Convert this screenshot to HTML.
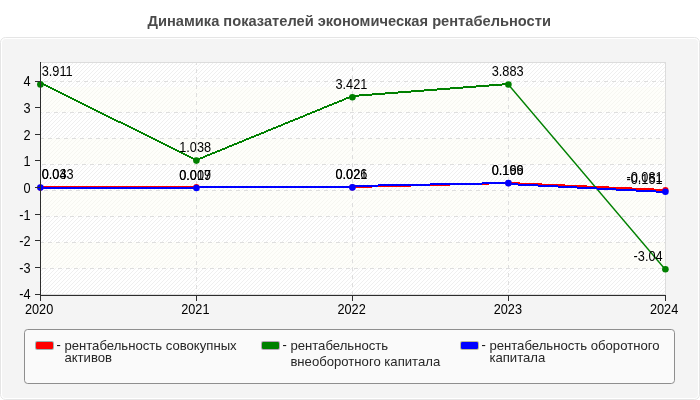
<!DOCTYPE html>
<html lang="ru"><head><meta charset="utf-8"><title>Динамика показателей экономическая рентабельности</title>
<style>
html,body{margin:0;padding:0;background:#ffffff;}
body{width:700px;height:400px;overflow:hidden;font-family:"Liberation Sans",sans-serif;}
svg text{font-family:"Liberation Sans",sans-serif;}
svg{will-change:transform;transform:translateZ(0);}
</style></head>
<body>
<svg width="700" height="400" viewBox="0 0 700 400" style="display:block">
<defs>
<pattern id="st" x="0" y="0" width="4" height="4" patternUnits="userSpaceOnUse"><g fill="#efefef" shape-rendering="crispEdges"><rect x="3" y="0" width="1" height="1"/><rect x="2" y="1" width="1" height="1"/><rect x="1" y="2" width="1" height="1"/><rect x="0" y="3" width="1" height="1"/></g></pattern>
<pattern id="sy" x="0" y="0" width="4" height="4" patternUnits="userSpaceOnUse"><g fill="#f6f6f1" shape-rendering="crispEdges"><rect x="3" y="0" width="1" height="1"/><rect x="2" y="1" width="1" height="1"/><rect x="1" y="2" width="1" height="1"/><rect x="0" y="3" width="1" height="1"/></g></pattern>
</defs>
<rect width="700" height="400" fill="#ffffff"/>
<text x="147.5" y="26" font-family="Liberation Sans, sans-serif" font-weight="bold" font-size="14.67" fill="#4b4b4b">Динамика показателей экономическая рентабельности</text>
<rect x="0.5" y="37.5" width="699" height="362" rx="5" ry="5" fill="#ffffff" stroke="#e5e5e5"/>
<rect x="2" y="39" width="696" height="359" rx="4" ry="4" fill="#f4f4f4"/>
<rect x="40" y="62" width="626" height="233" fill="#ffffff"/>
<rect x="40" y="62" width="626" height="233" fill="url(#st)"/>
<rect x="41" y="87" width="624" height="25" fill="#fefefa"/>
<rect x="41" y="87" width="624" height="25" fill="url(#sy)"/>
<rect x="41" y="138" width="624" height="26" fill="#fefefa"/>
<rect x="41" y="138" width="624" height="26" fill="url(#sy)"/>
<rect x="41" y="190" width="624" height="26" fill="#fefefa"/>
<rect x="41" y="190" width="624" height="26" fill="url(#sy)"/>
<rect x="41" y="242" width="624" height="26" fill="#fefefa"/>
<rect x="41" y="242" width="624" height="26" fill="url(#sy)"/>
<rect x="40.5" y="62.5" width="625" height="232" fill="none" stroke="#dcdcdc"/>
<line x1="40" y1="81.5" x2="665" y2="81.5" stroke="#dedede" stroke-dasharray="4 4" stroke-dashoffset="4" shape-rendering="crispEdges"/>
<line x1="40" y1="112.5" x2="665" y2="112.5" stroke="#dedede" stroke-dasharray="4 4" stroke-dashoffset="2" shape-rendering="crispEdges"/>
<line x1="40" y1="138.5" x2="665" y2="138.5" stroke="#dedede" stroke-dasharray="4 4" stroke-dashoffset="0" shape-rendering="crispEdges"/>
<line x1="40" y1="164.5" x2="665" y2="164.5" stroke="#dedede" stroke-dasharray="4 4" stroke-dashoffset="6" shape-rendering="crispEdges"/>
<line x1="40" y1="190.5" x2="665" y2="190.5" stroke="#dedede" stroke-dasharray="4 4" stroke-dashoffset="4" shape-rendering="crispEdges"/>
<line x1="40" y1="216.5" x2="665" y2="216.5" stroke="#dedede" stroke-dasharray="4 4" stroke-dashoffset="2" shape-rendering="crispEdges"/>
<line x1="40" y1="242.5" x2="665" y2="242.5" stroke="#dedede" stroke-dasharray="4 4" stroke-dashoffset="0" shape-rendering="crispEdges"/>
<line x1="40" y1="268.5" x2="665" y2="268.5" stroke="#dedede" stroke-dasharray="4 4" stroke-dashoffset="6" shape-rendering="crispEdges"/>
<line x1="196.5" y1="62" x2="196.5" y2="294" stroke="#dedede" stroke-dasharray="4 4" stroke-dashoffset="1" shape-rendering="crispEdges"/>
<line x1="352.5" y1="62" x2="352.5" y2="294" stroke="#dedede" stroke-dasharray="4 4" stroke-dashoffset="3" shape-rendering="crispEdges"/>
<line x1="508.5" y1="62" x2="508.5" y2="294" stroke="#dedede" stroke-dasharray="4 4" stroke-dashoffset="5" shape-rendering="crispEdges"/>
<path d="M40 186h157v2h-157z" fill="#ff0000" shape-rendering="crispEdges"/>
<path d="M196 186h157v2h-157z" fill="#ff0000" shape-rendering="crispEdges"/>
<path d="M352 186h20v2h-20zM372 185h39v2h-39zM411 184h39v2h-39zM450 183h39v2h-39zM489 182h20v2h-20z" fill="#ff0000" shape-rendering="crispEdges"/>
<path d="M508 182h12v2h-12zM520 183h22v2h-22zM542 184h23v2h-23zM565 185h22v2h-22zM587 186h22v2h-22zM609 187h23v2h-23zM632 188h22v2h-22zM654 189h12v2h-12z" fill="#ff0000" shape-rendering="crispEdges"/>
<path d="M40 82h2v2h-2zM42 83h2v2h-2zM44 84h2v2h-2zM46 85h2v2h-2zM48 86h2v2h-2zM50 87h2v2h-2zM52 88h2v2h-2zM54 89h2v2h-2zM56 90h2v2h-2zM58 91h2v2h-2zM60 92h2v2h-2zM62 93h2v2h-2zM64 94h2v2h-2zM66 95h2v2h-2zM68 96h2v2h-2zM70 97h2v2h-2zM72 98h2v2h-2zM74 99h2v2h-2zM76 100h2v2h-2zM78 101h2v2h-2zM80 102h2v2h-2zM82 103h2v2h-2zM84 104h2v2h-2zM86 105h2v2h-2zM88 106h2v2h-2zM90 107h2v2h-2zM92 108h2v2h-2zM94 109h2v2h-2zM96 110h2v2h-2zM98 111h2v2h-2zM100 112h2v2h-2zM102 113h2v2h-2zM104 114h2v2h-2zM106 115h2v2h-2zM108 116h2v2h-2zM110 117h2v2h-2zM112 118h2v2h-2zM114 119h2v2h-2zM116 120h2v2h-2zM118 121h3v2h-3zM121 122h2v2h-2zM123 123h2v2h-2zM125 124h2v2h-2zM127 125h2v2h-2zM129 126h2v2h-2zM131 127h2v2h-2zM133 128h2v2h-2zM135 129h2v2h-2zM137 130h2v2h-2zM139 131h2v2h-2zM141 132h2v2h-2zM143 133h2v2h-2zM145 134h2v2h-2zM147 135h2v2h-2zM149 136h2v2h-2zM151 137h2v2h-2zM153 138h2v2h-2zM155 139h2v2h-2zM157 140h2v2h-2zM159 141h2v2h-2zM161 142h2v2h-2zM163 143h2v2h-2zM165 144h2v2h-2zM167 145h2v2h-2zM169 146h2v2h-2zM171 147h2v2h-2zM173 148h2v2h-2zM175 149h2v2h-2zM177 150h2v2h-2zM179 151h2v2h-2zM181 152h2v2h-2zM183 153h2v2h-2zM185 154h2v2h-2zM187 155h2v2h-2zM189 156h2v2h-2zM191 157h2v2h-2zM193 158h2v2h-2zM195 159h2v2h-2z" fill="#008000" shape-rendering="crispEdges"/>
<path d="M196 159h2v2h-2zM198 158h2v2h-2zM200 157h3v2h-3zM203 156h2v2h-2zM205 155h2v2h-2zM207 154h3v2h-3zM210 153h2v2h-2zM212 152h3v2h-3zM215 151h2v2h-2zM217 150h3v2h-3zM220 149h2v2h-2zM222 148h3v2h-3zM225 147h2v2h-2zM227 146h2v2h-2zM229 145h3v2h-3zM232 144h2v2h-2zM234 143h3v2h-3zM237 142h2v2h-2zM239 141h3v2h-3zM242 140h2v2h-2zM244 139h2v2h-2zM246 138h3v2h-3zM249 137h2v2h-2zM251 136h3v2h-3zM254 135h2v2h-2zM256 134h3v2h-3zM259 133h2v2h-2zM261 132h3v2h-3zM264 131h2v2h-2zM266 130h2v2h-2zM268 129h3v2h-3zM271 128h2v2h-2zM273 127h3v2h-3zM276 126h2v2h-2zM278 125h3v2h-3zM281 124h2v2h-2zM283 123h2v2h-2zM285 122h3v2h-3zM288 121h2v2h-2zM290 120h3v2h-3zM293 119h2v2h-2zM295 118h3v2h-3zM298 117h2v2h-2zM300 116h3v2h-3zM303 115h2v2h-2zM305 114h2v2h-2zM307 113h3v2h-3zM310 112h2v2h-2zM312 111h3v2h-3zM315 110h2v2h-2zM317 109h3v2h-3zM320 108h2v2h-2zM322 107h2v2h-2zM324 106h3v2h-3zM327 105h2v2h-2zM329 104h3v2h-3zM332 103h2v2h-2zM334 102h3v2h-3zM337 101h2v2h-2zM339 100h3v2h-3zM342 99h2v2h-2zM344 98h2v2h-2zM346 97h3v2h-3zM349 96h2v2h-2zM351 95h2v2h-2z" fill="#008000" shape-rendering="crispEdges"/>
<path d="M352 95h7v2h-7zM359 94h13v2h-13zM372 93h13v2h-13zM385 92h13v2h-13zM398 91h13v2h-13zM411 90h13v2h-13zM424 89h13v2h-13zM437 88h13v2h-13zM450 87h13v2h-13zM463 86h13v2h-13zM476 85h13v2h-13zM489 84h13v2h-13zM502 83h7v2h-7z" fill="#008000" shape-rendering="crispEdges"/>
<line x1="508.3" y1="84.5" x2="665.3" y2="269.5" stroke="#008000" stroke-width="1.45"/>
<path d="M40 187h157v2h-157z" fill="#0000ff" shape-rendering="crispEdges"/>
<path d="M196 186h157v2h-157z" fill="#0000ff" shape-rendering="crispEdges"/>
<path d="M352 185h26v2h-26zM378 184h52v2h-52zM430 183h52v2h-52zM482 182h27v2h-27z" fill="#0000ff" shape-rendering="crispEdges"/>
<path d="M508 183h10v2h-10zM518 184h20v2h-20zM538 185h20v2h-20zM558 186h19v2h-19zM577 187h20v2h-20zM597 188h19v2h-19zM616 189h20v2h-20zM636 190h20v2h-20zM656 191h10v2h-10z" fill="#0000ff" shape-rendering="crispEdges"/>
<circle cx="40.40" cy="187.50" r="3.1" fill="#ff0000"/>
<circle cx="196.40" cy="187.00" r="3.1" fill="#ff0000"/>
<circle cx="352.40" cy="187.30" r="3.1" fill="#ff0000"/>
<circle cx="508.40" cy="183.10" r="3.1" fill="#ff0000"/>
<circle cx="665.40" cy="190.00" r="3.1" fill="#ff0000"/>
<circle cx="40.40" cy="84.40" r="3.3" fill="#008000"/>
<circle cx="196.40" cy="160.60" r="3.3" fill="#008000"/>
<circle cx="352.40" cy="97.30" r="3.3" fill="#008000"/>
<circle cx="508.40" cy="84.50" r="3.3" fill="#008000"/>
<circle cx="665.40" cy="269.25" r="3.3" fill="#008000"/>
<circle cx="40.40" cy="187.60" r="3.3" fill="#0000ff"/>
<circle cx="196.40" cy="187.95" r="3.3" fill="#0000ff"/>
<circle cx="352.40" cy="187.40" r="3.3" fill="#0000ff"/>
<circle cx="508.40" cy="183.15" r="3.3" fill="#0000ff"/>
<circle cx="665.40" cy="191.80" r="3.3" fill="#0000ff"/>
<rect x="40" y="62" width="1" height="234" fill="#2d2d2d"/>
<rect x="40" y="295" width="626" height="1" fill="#2d2d2d"/>
<rect x="35" y="81" width="5" height="1" fill="#2d2d2d"/>
<text transform="translate(30.60,86.40) scale(0.955,1.065)" text-anchor="end" font-family="Liberation Sans, sans-serif" font-size="13.33" fill="#000">4</text>
<rect x="35" y="107" width="5" height="1" fill="#2d2d2d"/>
<text transform="translate(30.60,113.03) scale(0.955,1.065)" text-anchor="end" font-family="Liberation Sans, sans-serif" font-size="13.33" fill="#000">3</text>
<rect x="35" y="134" width="5" height="1" fill="#2d2d2d"/>
<text transform="translate(30.60,139.65) scale(0.955,1.065)" text-anchor="end" font-family="Liberation Sans, sans-serif" font-size="13.33" fill="#000">2</text>
<rect x="35" y="160" width="5" height="1" fill="#2d2d2d"/>
<text transform="translate(30.60,166.28) scale(0.955,1.065)" text-anchor="end" font-family="Liberation Sans, sans-serif" font-size="13.33" fill="#000">1</text>
<rect x="35" y="187" width="5" height="1" fill="#2d2d2d"/>
<text transform="translate(30.60,192.90) scale(0.955,1.065)" text-anchor="end" font-family="Liberation Sans, sans-serif" font-size="13.33" fill="#000">0</text>
<rect x="35" y="214" width="5" height="1" fill="#2d2d2d"/>
<text transform="translate(30.60,219.53) scale(0.955,1.065)" text-anchor="end" font-family="Liberation Sans, sans-serif" font-size="13.33" fill="#000">-1</text>
<rect x="35" y="240" width="5" height="1" fill="#2d2d2d"/>
<text transform="translate(30.60,246.15) scale(0.955,1.065)" text-anchor="end" font-family="Liberation Sans, sans-serif" font-size="13.33" fill="#000">-2</text>
<rect x="35" y="267" width="5" height="1" fill="#2d2d2d"/>
<text transform="translate(30.60,272.77) scale(0.955,1.065)" text-anchor="end" font-family="Liberation Sans, sans-serif" font-size="13.33" fill="#000">-3</text>
<rect x="35" y="294" width="5" height="1" fill="#2d2d2d"/>
<text transform="translate(30.60,299.40) scale(0.955,1.065)" text-anchor="end" font-family="Liberation Sans, sans-serif" font-size="13.33" fill="#000">-4</text>
<rect x="40" y="296" width="1" height="5" fill="#2d2d2d"/>
<text transform="translate(39.10,314.00) scale(0.955,1.065)" text-anchor="middle" font-family="Liberation Sans, sans-serif" font-size="13.33" fill="#000">2020</text>
<rect x="196" y="296" width="1" height="5" fill="#2d2d2d"/>
<text transform="translate(195.35,314.00) scale(0.955,1.065)" text-anchor="middle" font-family="Liberation Sans, sans-serif" font-size="13.33" fill="#000">2021</text>
<rect x="352" y="296" width="1" height="5" fill="#2d2d2d"/>
<text transform="translate(351.60,314.00) scale(0.955,1.065)" text-anchor="middle" font-family="Liberation Sans, sans-serif" font-size="13.33" fill="#000">2022</text>
<rect x="508" y="296" width="1" height="5" fill="#2d2d2d"/>
<text transform="translate(507.85,314.00) scale(0.955,1.065)" text-anchor="middle" font-family="Liberation Sans, sans-serif" font-size="13.33" fill="#000">2023</text>
<rect x="665" y="296" width="1" height="5" fill="#2d2d2d"/>
<text transform="translate(664.10,314.00) scale(0.955,1.065)" text-anchor="middle" font-family="Liberation Sans, sans-serif" font-size="13.33" fill="#000">2024</text>
<text transform="translate(41.70,178.85) scale(0.955,1.065)" text-anchor="start" font-family="Liberation Sans, sans-serif" font-size="13.33" fill="#000">0.043</text>
<text transform="translate(195.15,179.85) scale(0.955,1.065)" text-anchor="middle" font-family="Liberation Sans, sans-serif" font-size="13.33" fill="#000">0.009</text>
<text transform="translate(351.40,178.85) scale(0.955,1.065)" text-anchor="middle" font-family="Liberation Sans, sans-serif" font-size="13.33" fill="#000">0.021</text>
<text transform="translate(507.65,174.85) scale(0.955,1.065)" text-anchor="middle" font-family="Liberation Sans, sans-serif" font-size="13.33" fill="#000">0.169</text>
<text transform="translate(662.60,181.85) scale(0.955,1.065)" text-anchor="end" font-family="Liberation Sans, sans-serif" font-size="13.33" fill="#000">-0.081</text>
<text transform="translate(41.70,75.85) scale(0.955,1.065)" text-anchor="start" font-family="Liberation Sans, sans-serif" font-size="13.33" fill="#000">3.911</text>
<text transform="translate(195.15,151.85) scale(0.955,1.065)" text-anchor="middle" font-family="Liberation Sans, sans-serif" font-size="13.33" fill="#000">1.038</text>
<text transform="translate(351.40,88.85) scale(0.955,1.065)" text-anchor="middle" font-family="Liberation Sans, sans-serif" font-size="13.33" fill="#000">3.421</text>
<text transform="translate(507.65,75.85) scale(0.955,1.065)" text-anchor="middle" font-family="Liberation Sans, sans-serif" font-size="13.33" fill="#000">3.883</text>
<text transform="translate(662.60,260.85) scale(0.955,1.065)" text-anchor="end" font-family="Liberation Sans, sans-serif" font-size="13.33" fill="#000">-3.04</text>
<text transform="translate(41.70,178.85) scale(0.955,1.065)" text-anchor="start" font-family="Liberation Sans, sans-serif" font-size="13.33" fill="#000">0.03</text>
<text transform="translate(195.15,179.85) scale(0.955,1.065)" text-anchor="middle" font-family="Liberation Sans, sans-serif" font-size="13.33" fill="#000">0.017</text>
<text transform="translate(351.40,178.85) scale(0.955,1.065)" text-anchor="middle" font-family="Liberation Sans, sans-serif" font-size="13.33" fill="#000">0.026</text>
<text transform="translate(507.65,174.85) scale(0.955,1.065)" text-anchor="middle" font-family="Liberation Sans, sans-serif" font-size="13.33" fill="#000">0.196</text>
<text transform="translate(662.60,183.85) scale(0.955,1.065)" text-anchor="end" font-family="Liberation Sans, sans-serif" font-size="13.33" fill="#000">-0.151</text>
<rect x="24.5" y="329.5" width="650" height="54" rx="3.2" ry="3.2" fill="#fafafa" stroke="#8e8e8e"/>
<rect x="35" y="341" width="19" height="9" rx="2.2" ry="2.2" fill="#9db4b4"/>
<rect x="36" y="342" width="17" height="7" rx="1.2" ry="1.2" fill="#ff0000"/>
<rect x="57" y="345" width="3.2" height="1.1" fill="#1c1c1c"/>
<text x="64.4" y="349.7" font-family="Liberation Sans, sans-serif" font-size="13.13" fill="#262626">рентабельность совокупных</text>
<text x="64.4" y="361.7" font-family="Liberation Sans, sans-serif" font-size="13.13" fill="#262626">активов</text>
<rect x="261" y="341" width="19" height="9" rx="2.2" ry="2.2" fill="#b8a4b8"/>
<rect x="262" y="342" width="17" height="7" rx="1.2" ry="1.2" fill="#008000"/>
<rect x="283" y="345" width="3.2" height="1.1" fill="#1c1c1c"/>
<text x="290.4" y="349.7" font-family="Liberation Sans, sans-serif" font-size="13.13" fill="#262626">рентабельность</text>
<text x="290.4" y="365.7" font-family="Liberation Sans, sans-serif" font-size="13.13" fill="#262626">внеоборотного капитала</text>
<rect x="460" y="341" width="19" height="9" rx="2.2" ry="2.2" fill="#bdb99c"/>
<rect x="461" y="342" width="17" height="7" rx="1.2" ry="1.2" fill="#0000ff"/>
<rect x="482" y="345" width="3.2" height="1.1" fill="#1c1c1c"/>
<text x="489.4" y="349.7" font-family="Liberation Sans, sans-serif" font-size="13.13" fill="#262626">рентабельность оборотного</text>
<text x="489.4" y="361.7" font-family="Liberation Sans, sans-serif" font-size="13.13" fill="#262626">капитала</text>
</svg>
</body></html>
